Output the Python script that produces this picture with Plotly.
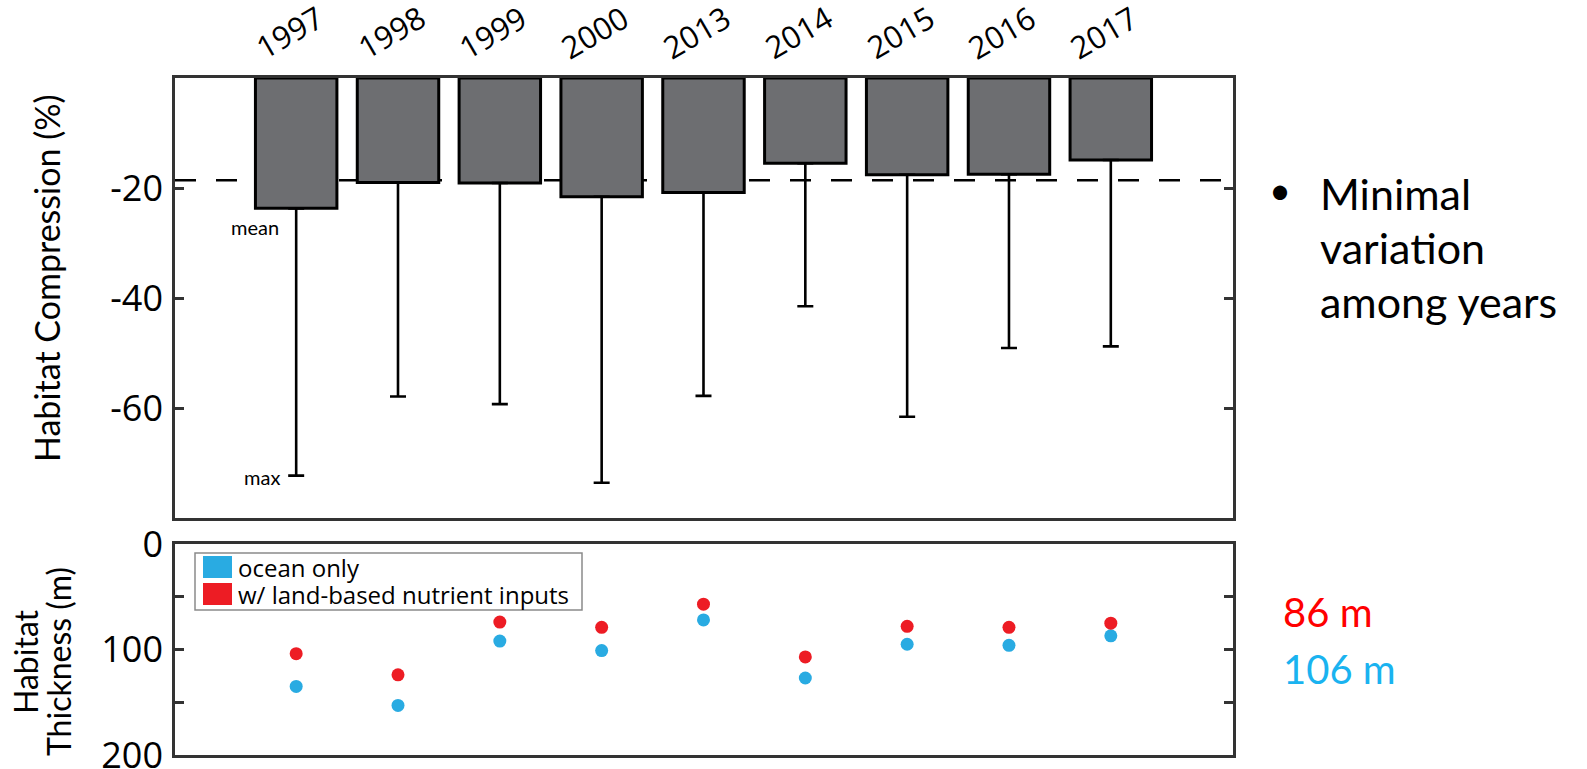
import plotly.graph_objects as go

# ---- data -------------------------------------------------------------
years = ["1997", "1998", "1999", "2000", "2013", "2014", "2015", "2016", "2017"]

# habitat compression (%) per year: mean and maximum
compression_mean = [-23.7, -19.0, -19.1, -21.6, -20.8, -15.5, -17.6, -17.5, -14.9]
compression_max = [-72.3, -57.9, -59.3, -73.6, -57.8, -41.5, -61.6, -49.1, -48.8]
compression_ref = -18.6  # all-years reference level (dashed line)
compression_ticks = [-60, -40, -20]

# habitat thickness (m)
series_names = ["ocean only", "w/ land-based nutrient inputs"]
thickness_ocean = [135, 153, 92, 101, 72, 127, 95, 96, 87]
thickness_land = [104, 124, 74, 79, 57, 107, 78, 79, 75]
thickness_ticks = [0, 50, 100, 150, 200]
thickness_ticktext = ["0", "", "100", "", "200"]
thickness_land_avg = "86 m"
thickness_ocean_avg = "106 m"

# ---- style -------------------------------------------------------------
W, H = 1587, 769
ML, MR, MT, MB = 175, 354, 78, 14
PW, PH = W - ML - MR, H - MT - MB

BAR_FILL = "#6d6e71"
BLUE = "#29abe2"
RED = "#ed1c24"
FRAME = "#333333"
TICK_FONT = dict(family="Open Sans", size=36, color="black")
TEXT_FAMILY = "Lato"


def px_x(px):
    return (px - ML) / PW


def px_y(py):
    return (H - MB - py) / PH


err_minus = [m - mx for m, mx in zip(compression_mean, compression_max)]

fig = go.Figure()

fig.add_trace(go.Bar(
    x=years, y=compression_mean, width=0.8,
    marker=dict(color=BAR_FILL, line=dict(color="black", width=3)),
    error_y=dict(type="data", symmetric=False, array=[0] * len(years),
                 arrayminus=err_minus, color="black", thickness=2.6, width=8),
    xaxis="x", yaxis="y", showlegend=False,
))

fig.add_trace(go.Scatter(
    x=years, y=thickness_ocean, mode="markers", name=series_names[0],
    marker=dict(color=BLUE, size=13), xaxis="x2", yaxis="y2", showlegend=False,
))
fig.add_trace(go.Scatter(
    x=years, y=thickness_land, mode="markers", name=series_names[1],
    marker=dict(color=RED, size=13), xaxis="x2", yaxis="y2", showlegend=False,
))

xr = [-1.19, 9.2]
top_dom = [px_y(518), 1.0]
bot_dom = [0.0, px_y(544)]

axis_common = dict(showline=True, linecolor=FRAME, linewidth=2.5, mirror="allticks",
                   showgrid=False, zeroline=False, automargin=False)

fig.update_layout(
    width=W, height=H,
    margin=dict(l=ML, r=MR, t=MT, b=MB, autoexpand=False),
    paper_bgcolor="white", plot_bgcolor="white",
    bargap=0.2,
    showlegend=False,
    xaxis=dict(domain=[0, 1], range=xr, type="category", anchor="y",
               showticklabels=False, ticks="", **axis_common),
    yaxis=dict(domain=top_dom, range=[-80, 0], anchor="x",
               tickvals=compression_ticks, ticktext=[str(v) for v in compression_ticks],
               ticks="inside", ticklen=9, tickwidth=2.5,
               tickcolor=FRAME, tickfont=TICK_FONT, ticklabelstandoff=2,
               ticklabeloverflow="allow", **axis_common),
    xaxis2=dict(domain=[0, 1], range=xr, type="category", anchor="y2",
                showticklabels=False, ticks="", **axis_common),
    yaxis2=dict(domain=bot_dom, range=[200, 0], anchor="x2",
                tickvals=thickness_ticks, ticktext=thickness_ticktext,
                ticks="inside", ticklen=9, tickwidth=2.5, tickcolor=FRAME,
                tickfont=TICK_FONT, ticklabelstandoff=2,
                ticklabeloverflow="allow", **axis_common),
)

# all-years reference line, behind the bars
fig.add_shape(type="line", xref="paper", yref="y", x0=0, x1=1,
              y0=compression_ref, y1=compression_ref, layer="below",
              line=dict(color="black", width=2.5, dash="21px,20px"))

# compact key box for the thickness panel
fig.add_shape(type="rect", xref="paper", yref="paper",
              x0=px_x(195), x1=px_x(582), y0=px_y(610), y1=px_y(553),
              fillcolor="white", line=dict(color="#8a8a8a", width=1.5), layer="above")

ann = []
for name, col, cy in [(series_names[0], BLUE, 567), (series_names[1], RED, 594)]:
    # colour swatch
    ann.append(dict(x=px_x(203), xref="paper", y=px_y(cy), yref="paper", text="",
                    showarrow=False, xanchor="left", yanchor="middle",
                    width=29, height=22, bgcolor=col, borderpad=0, borderwidth=0))
    ann.append(dict(x=px_x(236), xref="paper", y=px_y(cy), yref="paper", text=name,
                    showarrow=False, xanchor="left", yanchor="middle",
                    font=dict(family="Open Sans", size=24, color="black")))

# year labels above the bars
for i, yr in enumerate(years):
    ann.append(dict(x=i, xref="x", y=1, yref="paper", text=yr, showarrow=False,
                    textangle=-30, xanchor="center", yanchor="middle",
                    xshift=-7, yshift=46,
                    font=dict(family="Open Sans", size=31, color="black")))

# "mean" / "max" markers on the first bar
ann.append(dict(x=0, xref="x", y=compression_mean[0], yref="y", text="mean",
                showarrow=False, xanchor="right", yanchor="middle", xshift=-15, yshift=-19,
                font=dict(family=TEXT_FAMILY, size=20, color="black")))
ann.append(dict(x=0, xref="x", y=compression_max[0], yref="y", text="max",
                showarrow=False, xanchor="right", yanchor="middle", xshift=-14, yshift=-1,
                font=dict(family=TEXT_FAMILY, size=20, color="black")))

# axis titles
ann.append(dict(x=px_x(46), xref="paper", y=px_y(278), yref="paper",
                text="Habitat Compression (%)", showarrow=False, textangle=-90,
                xanchor="center", yanchor="middle",
                font=dict(family=TEXT_FAMILY, size=34, color="black")))
ann.append(dict(x=px_x(25), xref="paper", y=px_y(662), yref="paper",
                text="Habitat", showarrow=False, textangle=-90,
                xanchor="center", yanchor="middle",
                font=dict(family=TEXT_FAMILY, size=32, color="black")))
ann.append(dict(x=px_x(58), xref="paper", y=px_y(662), yref="paper",
                text="Thickness (m)", showarrow=False, textangle=-90,
                xanchor="center", yanchor="middle",
                font=dict(family=TEXT_FAMILY, size=32, color="black")))

# side notes
side_font = dict(family=TEXT_FAMILY, size=43, color="black")
ann.append(dict(x=px_x(1280), xref="paper", y=px_y(189), yref="paper", text="•",
                showarrow=False, xanchor="center", yanchor="middle",
                font=dict(family=TEXT_FAMILY, size=38, color="black")))
for line, cy in [("Minimal", 193), ("variation", 247), ("among years", 301)]:
    ann.append(dict(x=px_x(1318), xref="paper", y=px_y(cy), yref="paper", text=line,
                    showarrow=False, xanchor="left", yanchor="middle", font=side_font))
ann.append(dict(x=px_x(1281), xref="paper", y=px_y(612), yref="paper",
                text=thickness_land_avg, showarrow=False, xanchor="left", yanchor="middle",
                font=dict(family=TEXT_FAMILY, size=40, color="#ff0000")))
ann.append(dict(x=px_x(1281), xref="paper", y=px_y(669), yref="paper",
                text=thickness_ocean_avg, showarrow=False, xanchor="left", yanchor="middle",
                font=dict(family=TEXT_FAMILY, size=40, color="#1ab3f0")))

fig.update_layout(annotations=ann)

fig.write_html("out.html")
